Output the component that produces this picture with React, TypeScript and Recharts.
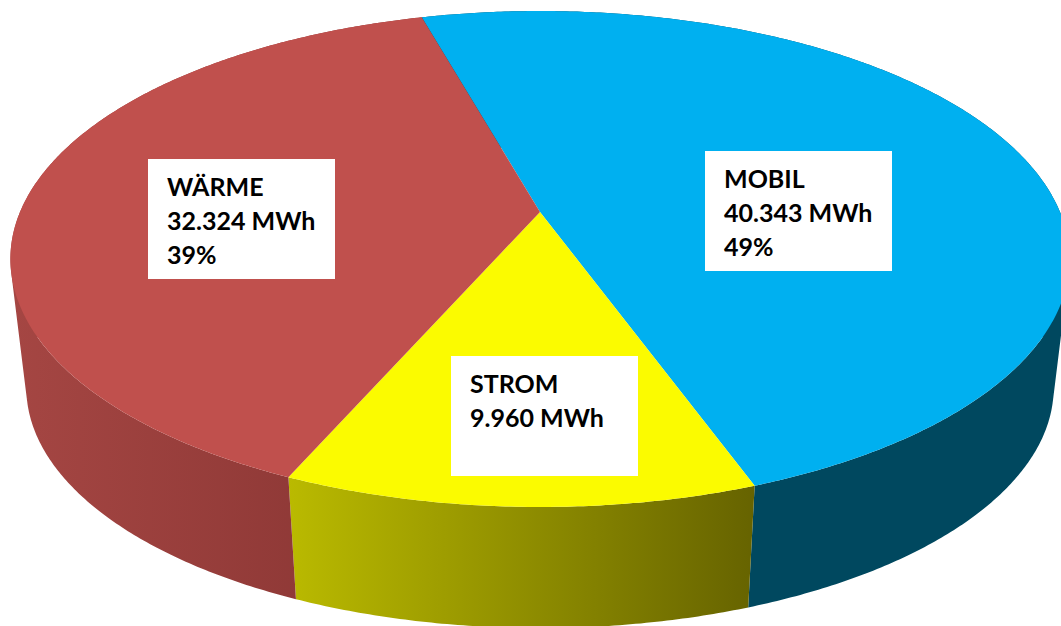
import { PieChart, Pie } from "recharts";

const names = ["MOBIL", "STROM", "WÄRME"];
const values = [40343, 9960, 32324];
const valueLabels = ["40.343 MWh", "9.960 MWh", "32.324 MWh"];
const percentLabels = ["49%", "", "39%"];
const topColors = ["#00B0F0", "#FBFB00", "#C0504D"];
const wallGradients = ["wallBlue", "wallYellow", "wallRed"];

const boxes = [
  { left: 705, top: 151 },
  { left: 451, top: 356 },
  { left: 148, top: 159 },
];

const data = names.map((name, i) => ({ name, value: values[i], fill: topColors[i] }));

const WIDTH = 1061;
const HEIGHT = 626;

// perspective of the disc: circle coordinates -> screen
const CENTER_X = 540;
const PERSP = -0.1895;
const SLOPE_Y = 198.9;

type Pt = { x: number; y: number };

function project(angle: number, cx: number, cy: number, r: number): Pt {
  const rad = (angle * Math.PI) / 180;
  const u = Math.cos(rad);
  const v = -Math.sin(rad);
  const w = 1 + PERSP * v;
  return { x: cx + (r * u) / w, y: (cy + SLOPE_Y * v) / w };
}

// bottom rim is the top rim pushed down and slightly shrunk
function lower(p: Pt): Pt {
  return { x: CENTER_X + 0.97 * (p.x - CENTER_X), y: 388.5 + 0.97 * (p.y - 260) };
}

function arcPoints(start: number, end: number, cx: number, cy: number, r: number) {
  const steps = Math.max(2, Math.ceil(Math.abs(start - end) * 2));
  const pts: Pt[] = [];
  for (let i = 0; i <= steps; i++) {
    pts.push(project(start + ((end - start) * i) / steps, cx, cy, r));
  }
  return pts;
}

const toPath = (pts: Pt[]) =>
  "M" + pts.map((p) => `${p.x.toFixed(2)},${p.y.toFixed(2)}`).join("L") + "Z";

function area(pts: Pt[]) {
  let a = 0;
  pts.forEach((p, i) => {
    const q = pts[(i + 1) % pts.length];
    a += p.x * q.y - q.x * p.y;
  });
  return a;
}

function TopSlice(props: any) {
  const { cx, cy, outerRadius, startAngle, endAngle, fill } = props;
  const pts = arcPoints(startAngle, endAngle, cx, cy, outerRadius);
  return <path d={toPath([{ x: cx, y: cy }, ...pts])} fill={fill} stroke="none" />;
}

function WallSlice(props: any) {
  const { cx, cy, outerRadius, startAngle, endAngle, index } = props;
  const top = arcPoints(startAngle, endAngle, cx, cy, outerRadius);
  // one quad per step, all wound the same way, so the sides of the disc stay filled
  let d = "";
  for (let i = 0; i < top.length - 1; i++) {
    const quad = [top[i], top[i + 1], lower(top[i + 1]), lower(top[i])];
    d += toPath(area(quad) < 0 ? quad.reverse() : quad);
  }
  return <path d={d} fill={`url(#${wallGradients[index]})`} fillRule="nonzero" stroke="none" />;
}

export default function App() {
  return (
    <div
      style={{
        position: "fixed",
        left: 0,
        top: 0,
        width: WIDTH,
        height: HEIGHT,
        overflow: "hidden",
        background: "#fff",
      }}
    >
      <PieChart width={WIDTH} height={HEIGHT} margin={{ top: 0, right: 0, bottom: 0, left: 0 }}>
        <defs>
          <linearGradient id="wallRed" x1="0" y1="0" x2="1" y2="0">
            <stop offset="0" stopColor="#A54643" />
            <stop offset="1" stopColor="#873432" />
          </linearGradient>
          <linearGradient id="wallYellow" x1="0" y1="0" x2="1" y2="0">
            <stop offset="0" stopColor="#BABA00" />
            <stop offset="1" stopColor="#666300" />
          </linearGradient>
          <linearGradient id="wallBlue" x1="0" y1="0" x2="1" y2="0">
            <stop offset="0" stopColor="#00485F" />
            <stop offset="1" stopColor="#00485F" />
          </linearGradient>
        </defs>
        {/* side walls first, the top of the disc covers the back part */}
        <Pie
          data={data}
          dataKey="value"
          nameKey="name"
          cx={CENTER_X}
          cy={212}
          outerRadius={520}
          startAngle={105.6}
          endAngle={-254.4}
          shape={WallSlice}
          isAnimationActive={false}
        />
        <Pie
          data={data}
          dataKey="value"
          nameKey="name"
          cx={CENTER_X}
          cy={212}
          outerRadius={520}
          startAngle={105.6}
          endAngle={-254.4}
          shape={TopSlice}
          isAnimationActive={false}
        />
      </PieChart>

      {names.map((name, i) => (
        <div
          key={name}
          style={{
            position: "absolute",
            left: boxes[i].left,
            top: boxes[i].top,
            width: 187,
            height: 120,
            boxSizing: "border-box",
            padding: "10px 0 0 19px",
            background: "#fff",
            color: "#000",
            fontFamily: "Lato, sans-serif",
            fontWeight: 700,
            fontSize: 25,
            lineHeight: "34px",
            whiteSpace: "nowrap",
          }}
        >
          <div>{name}</div>
          <div>{valueLabels[i]}</div>
          {percentLabels[i] && <div>{percentLabels[i]}</div>}
        </div>
      ))}
    </div>
  );
}
